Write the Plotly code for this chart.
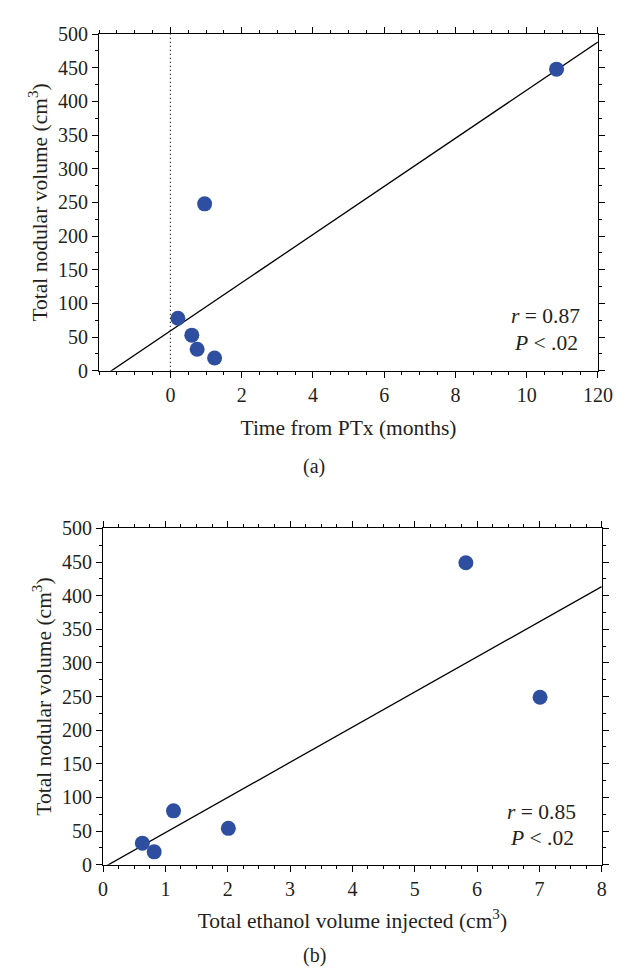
import numpy as np
import plotly.graph_objects as go

# (a) time from PTx vs nodular volume
time_ptx = [0.21, 0.60, 0.75, 0.96, 1.24, 10.84]
volume_a = [78, 53, 32, 248, 19, 448]

# (b) ethanol injected vs nodular volume
ethanol = [0.63, 0.82, 1.13, 2.01, 5.82, 7.01]
volume_b = [32, 19, 80, 54, 449, 249]

x_ticks_a = [0, 2, 4, 6, 8, 10, 12]
x_labels_a = ['0', '2', '4', '6', '8', '10', '120']
y_ticks = list(range(0, 501, 50))

W, H = 632, 969
FONT = 'Liberation Serif'
BLUE = '#2e4f9f'
INK = '#231f20'


def px_x(p):
  return p / W


def px_y(p):
  return 1 - p / H


def fit_line(x, y, lo, hi):
  slope, icpt = np.polyfit(x, y, 1)
  xs = np.array([lo, hi])
  return xs, slope * xs + icpt


fig = go.Figure()

# top panel
line_x, line_y = fit_line(time_ptx, volume_a, -2, 12)
fig.add_trace(go.Scatter(x=line_x, y=line_y, mode='lines',
                         line=dict(color='black', width=1.3),
                         xaxis='x', yaxis='y', showlegend=False))
fig.add_trace(go.Scatter(x=time_ptx, y=volume_a, mode='markers',
                         marker=dict(color=BLUE, size=15),
                         xaxis='x', yaxis='y', showlegend=False))

# bottom panel
line_x, line_y = fit_line(ethanol, volume_b, 0, 8)
fig.add_trace(go.Scatter(x=line_x, y=line_y, mode='lines',
                         line=dict(color='black', width=1.3),
                         xaxis='x2', yaxis='y2', showlegend=False))
fig.add_trace(go.Scatter(x=ethanol, y=volume_b, mode='markers',
                         marker=dict(color=BLUE, size=15),
                         xaxis='x2', yaxis='y2', showlegend=False))

tfont = dict(family=FONT, size=20, color=INK)
lfont = dict(family=FONT, size=21.5, color=INK)
axis_style = dict(showline=True, linecolor='black', linewidth=1.3, mirror='ticks',
                  ticks='outside', ticklen=6, tickwidth=1.3, tickcolor='black',
                  showgrid=False, zeroline=False, tickfont=tfont)
minor_y = dict(tick0=0, dtick=25, ticks='outside', ticklen=3,
               tickcolor='black', tickwidth=1)

fig.update_layout(
  width=W, height=H,
  margin=dict(l=0, r=0, t=0, b=0),
  plot_bgcolor='white', paper_bgcolor='white',
  font=tfont,
  xaxis=dict(axis_style, domain=[px_x(89), px_x(604)], range=[-2, 12],
             tickmode='array', tickvals=x_ticks_a, ticktext=x_labels_a,
             minor=dict(tick0=-2, dtick=0.5, ticks='outside', ticklen=3,
                        tickcolor='black', tickwidth=1),
             title=dict(text='Time from PTx (months)', standoff=14, font=lfont),
             anchor='y'),
  yaxis=dict(axis_style, domain=[px_y(360), px_y(15.5)], range=[0, 500],
             tickmode='array', tickvals=y_ticks, minor=minor_y,
             title=dict(text='Total nodular volume (cm<sup>3</sup>)', standoff=4, font=lfont),
             anchor='x'),
  xaxis2=dict(axis_style, domain=[px_x(93), px_x(608)], range=[0, 8],
              tickmode='linear', tick0=0, dtick=1,
              minor=dict(tick0=0, dtick=0.25, ticks='outside', ticklen=3,
                         tickcolor='black', tickwidth=1),
              title=dict(text='Total ethanol volume injected (cm<sup>3</sup>)', standoff=14,
                         font=lfont),
              anchor='y2'),
  yaxis2=dict(axis_style, domain=[px_y(865.3), px_y(521.3)], range=[0, 500],
              tickmode='array', tickvals=y_ticks, minor=minor_y,
              title=dict(text='Total nodular volume (cm<sup>3</sup>)', standoff=4, font=lfont),
              anchor='x2'),
)

# dotted line at time zero
fig.add_shape(type='line', xref='x', yref='y domain', x0=0, x1=0, y0=0, y1=1,
              line=dict(color='black', width=1.2, dash='1px,3px'))

notes = [
  ('x domain', 'y domain', 0.895, 0.163, '<i>r</i> = 0.87'),
  ('x domain', 'y domain', 0.895, 0.084, '<i>P</i> < .02'),
  ('x2 domain', 'y2 domain', 0.88, 0.158, '<i>r</i> = 0.85'),
  ('x2 domain', 'y2 domain', 0.88, 0.080, '<i>P</i> < .02'),
]
for xr, yr, xv, yv, txt in notes:
  fig.add_annotation(xref=xr, yref=yr, x=xv, y=yv, text=txt, showarrow=False,
                     xanchor='center', yanchor='middle', font=lfont)

fig.add_annotation(xref='paper', yref='paper', x=px_x(311), y=px_y(458), text='(a)',
                   showarrow=False, xanchor='center', yanchor='middle', font=tfont)
fig.add_annotation(xref='paper', yref='paper', x=px_x(311), y=px_y(958), text='(b)',
                   showarrow=False, xanchor='center', yanchor='middle', font=tfont)

fig.write_html("out.html")
